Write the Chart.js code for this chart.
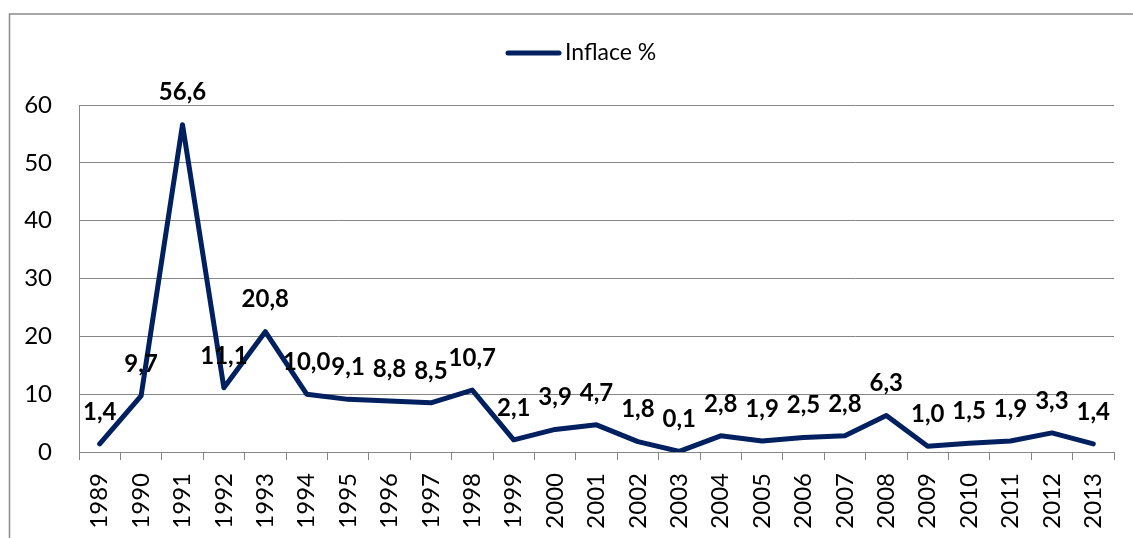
<!DOCTYPE html>
<html>
<head>
<meta charset="utf-8">
<script src="https://cdn.jsdelivr.net/npm/chart.js@4"></script>
<style>
  html, body { margin: 0; padding: 0; background: #fff; }
  #wrap { width: 1133px; height: 538px; position: relative; }
</style>
</head>
<body>
<div id="wrap"><canvas id="c" width="1133" height="538"></canvas></div>
<script>
const years = ['1989','1990','1991','1992','1993','1994','1995','1996','1997','1998','1999','2000','2001','2002','2003','2004','2005','2006','2007','2008','2009','2010','2011','2012','2013'];
const inflace = [1.4, 9.7, 56.6, 11.1, 20.8, 10.0, 9.1, 8.8, 8.5, 10.7, 2.1, 3.9, 4.7, 1.8, 0.1, 2.8, 1.9, 2.5, 2.8, 6.3, 1.0, 1.5, 1.9, 3.3, 1.4];
const seriesName = 'Inflace %';
const yTicks = [0, 10, 20, 30, 40, 50, 60];

const NAVY = '#002060';
const GRID = '#868686';
const FONT = 'Lato, "Open Sans", sans-serif';

const borderPlugin = {
  id: 'outerBorder',
  beforeDraw(chart) {
    const ctx = chart.ctx;
    ctx.save();
    ctx.fillStyle = '#fff';
    ctx.fillRect(0, 0, chart.width, chart.height);
    ctx.strokeStyle = '#8c8c8c';
    ctx.lineWidth = 1.5;
    ctx.strokeRect(9.5, 14, 1140, 600);
    ctx.restore();
  }
};

// legend drawn from the dataset's own label and colour
const legendPlugin = {
  id: 'lineLegend',
  afterDraw(chart) {
    const ds = chart.data.datasets[0];
    const ctx = chart.ctx;
    ctx.save();
    ctx.strokeStyle = ds.borderColor;
    ctx.lineWidth = 5;
    ctx.lineCap = 'round';
    ctx.beginPath();
    ctx.moveTo(508, 53);
    ctx.lineTo(559, 53);
    ctx.stroke();
    ctx.font = '23px ' + FONT;
    ctx.fillStyle = '#000';
    ctx.textAlign = 'left';
    ctx.textBaseline = 'middle';
    ctx.fillText(ds.label, 565, 53);
    ctx.restore();
  }
};

const labelPlugin = {
  id: 'valueLabels',
  afterDatasetsDraw(chart) {
    const ctx = chart.ctx;
    const meta = chart.getDatasetMeta(0);
    ctx.save();
    ctx.font = 'bold 24px ' + FONT;
    ctx.fillStyle = '#000';
    ctx.textAlign = 'center';
    ctx.textBaseline = 'middle';
    meta.data.forEach((pt, i) => {
      const v = chart.data.datasets[0].data[i];
      ctx.fillText(v.toFixed(1).replace('.', ','), pt.x, pt.y - 32);
    });
    ctx.restore();
  }
};

new Chart(document.getElementById('c'), {
  type: 'line',
  data: {
    labels: years,
    datasets: [{
      label: seriesName,
      data: inflace,
      borderColor: NAVY,
      backgroundColor: NAVY,
      borderWidth: 5,
      tension: 0,
      pointRadius: 0,
      pointHoverRadius: 0,
      borderCapStyle: 'round',
      borderJoinStyle: 'round',
      fill: false
    }]
  },
  options: {
    responsive: false,
    animation: false,
    devicePixelRatio: 1,
    layout: { padding: { left: 12, top: 105, right: 19, bottom: 0 } },
    plugins: {
      tooltip: { enabled: false },
      legend: { display: false }
    },
    scales: {
      x: {
        type: 'category',
        offset: true,
        afterFit(scale) { scale.height = 86; scale.paddingLeft = 0; scale.paddingRight = 0; },
        grid: {
          display: true,
          offset: true,
          drawOnChartArea: false,
          drawTicks: true,
          tickLength: 8,
          color: GRID,
          lineWidth: 1
        },
        border: { display: true, color: GRID, width: 1 },
        ticks: {
          font: { family: FONT, size: 24 },
          color: '#000',
          maxRotation: 90,
          minRotation: 90,
          padding: 13,
          autoSkip: false
        }
      },
      y: {
        min: 0,
        max: 60,
        afterBuildTicks(scale) { scale.ticks = yTicks.map(v => ({ value: v })); },
        afterFit(scale) { scale.width = 67; scale.paddingTop = 0; scale.paddingBottom = 0; },
        grid: {
          color: GRID,
          lineWidth: 1,
          drawTicks: false
        },
        border: { display: true, color: GRID, width: 1 },
        ticks: {
          font: { family: FONT, size: 24 },
          color: '#000',
          padding: 27
        }
      }
    }
  },
  plugins: [borderPlugin, labelPlugin, legendPlugin]
});
</script>
</body>
</html>
